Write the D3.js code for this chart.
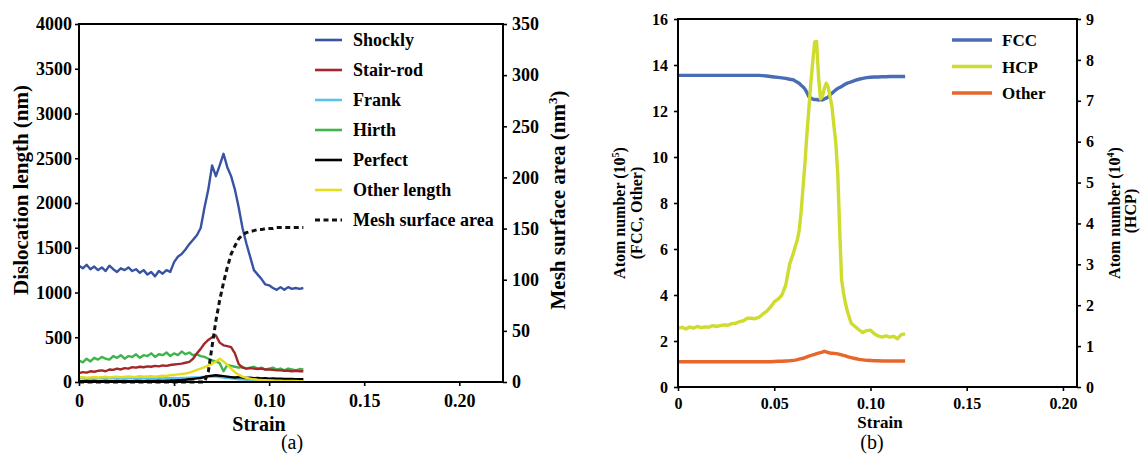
<!DOCTYPE html>
<html><head><meta charset="utf-8">
<script src="https://cdn.jsdelivr.net/npm/d3@7/dist/d3.min.js"></script>
<style>
html,body{margin:0;padding:0;background:#fff;}
svg{display:block;}
text{font-family:"Liberation Serif","Times New Roman",serif;}
</style></head>
<body>
<svg id="c" width="1141" height="457"></svg>
<script>
// ---------- Panel (a) data ----------
const strainA = [0,0.002,0.004,0.006,0.008,0.010,0.012,0.014,0.016,0.018,0.020,0.022,0.024,0.026,0.028,0.030,0.032,0.034,0.036,0.038,0.040,0.042,0.044,0.046,0.048,0.050,0.052,0.054,0.056,0.058,0.060,0.062,0.064,0.066,0.068,0.070,0.072,0.074,0.076,0.078,0.080,0.082,0.084,0.086,0.088,0.090,0.092,0.094,0.096,0.098,0.100,0.102,0.104,0.106,0.108,0.110,0.112,0.114,0.116,0.118];
const shockly = [1300,1270,1310,1260,1290,1250,1280,1240,1300,1260,1230,1270,1250,1280,1240,1260,1220,1250,1200,1230,1180,1240,1210,1250,1230,1340,1400,1430,1480,1540,1590,1640,1720,1950,2150,2420,2300,2420,2550,2400,2300,2150,1950,1720,1550,1400,1250,1200,1150,1090,1080,1050,1030,1060,1030,1060,1040,1050,1040,1050];
const stairRod = [100,110,105,120,115,125,130,120,140,135,150,140,155,150,165,160,170,165,175,170,180,175,185,180,190,195,200,205,215,225,260,320,370,430,470,500,520,440,410,400,390,320,200,160,150,155,150,145,150,140,140,135,130,130,125,125,120,125,120,120];
const frank = [40,42,38,41,39,42,40,38,41,43,40,39,42,40,41,38,40,42,39,41,40,42,41,43,42,44,43,45,46,48,50,52,55,58,60,62,60,55,50,45,40,35,30,28,25,22,20,20,18,18,17,16,16,15,15,14,14,13,13,12];
const hirth = [240,220,260,230,270,250,280,260,250,290,270,300,260,290,280,310,270,300,290,320,280,310,300,330,290,320,300,340,310,330,300,310,290,280,260,240,230,210,120,190,180,170,160,170,150,160,170,150,160,140,150,160,140,150,130,150,140,130,145,140];
const perfect = [10,8,12,9,11,10,8,12,10,9,11,10,12,9,10,11,12,10,13,11,12,14,13,15,16,18,20,22,25,30,35,40,45,55,65,70,75,70,65,60,55,50,55,50,45,48,42,45,40,42,38,40,36,38,35,34,33,32,31,30];
const otherLength = [50,55,48,52,56,50,54,58,52,56,60,55,58,62,57,60,64,58,62,66,60,65,70,68,75,80,85,90,95,105,120,135,150,165,185,200,230,260,230,190,150,110,80,60,45,38,30,25,22,20,18,16,15,14,13,12,12,11,10,10];
const meshArea = [0,0,0,0,0,0,0,0,0,0,0,0,0,0,0,0,0,0,0,0,0,0,0,0,0,0,0,0,0,0,0,0,0,0,10,35,60,80,97,112,125,133,140,144,146,147,148,149,149,150,150,150,151,151,151,151,151,151,151,151];
const xTicksA = [0,0.05,0.10,0.15,0.20];
const yTicksA = [0,500,1000,1500,2000,2500,3000,3500,4000];
const y2TicksA = [0,50,100,150,200,250,300,350];
const legendA = ["Shockly","Stair-rod","Frank","Hirth","Perfect","Other length","Mesh surface area"];

// ---------- Panel (b) data ----------
const strainB = [0,0.002,0.004,0.006,0.008,0.010,0.012,0.014,0.016,0.018,0.020,0.022,0.024,0.026,0.028,0.030,0.032,0.034,0.036,0.038,0.040,0.042,0.044,0.046,0.048,0.050,0.052,0.054,0.056,0.058,0.060,
0.061,0.062,0.063,0.064,0.065,0.066,0.067,0.068,0.069,0.070,0.071,0.072,0.073,0.074,0.075,0.076,0.077,0.078,0.079,0.080,0.081,0.082,0.083,0.084,0.085,0.086,0.087,0.088,0.089,0.090,
0.092,0.094,0.096,0.098,0.100,0.102,0.104,0.106,0.108,0.110,0.112,0.114,0.116,0.118];
const fcc = [13.55,13.55,13.55,13.55,13.55,13.55,13.55,13.55,13.55,13.55,13.55,13.55,13.55,13.55,13.55,13.55,13.55,13.55,13.55,13.55,13.55,13.55,13.54,13.52,13.5,13.48,13.46,13.44,13.42,13.38,13.35,
13.3,13.25,13.2,13.12,13.05,12.95,12.8,12.62,12.56,12.52,12.5,12.5,12.48,12.5,12.48,12.52,12.56,12.6,12.7,12.77,12.85,12.92,12.98,13.02,13.06,13.12,13.17,13.21,13.24,13.27,
13.33,13.38,13.42,13.45,13.47,13.48,13.48,13.49,13.49,13.5,13.5,13.5,13.5,13.5];
const hcp = [1.44,1.46,1.42,1.47,1.44,1.48,1.45,1.47,1.46,1.50,1.48,1.50,1.52,1.51,1.55,1.56,1.60,1.62,1.68,1.68,1.67,1.70,1.78,1.85,1.95,2.08,2.15,2.25,2.50,3.00,3.28,
3.45,3.6,3.84,4.3,4.9,5.5,6.2,6.8,7.43,7.95,8.44,8.45,7.6,7.05,7.1,7.3,7.43,7.34,7.1,6.85,6.4,5.96,5.23,3.84,2.62,2.3,2.05,1.85,1.7,1.56,
1.48,1.4,1.33,1.38,1.39,1.3,1.25,1.22,1.25,1.22,1.24,1.18,1.28,1.3];
const otherB = [1.1,1.1,1.1,1.1,1.1,1.1,1.1,1.1,1.1,1.1,1.1,1.1,1.1,1.1,1.1,1.1,1.1,1.1,1.1,1.1,1.1,1.1,1.1,1.1,1.1,1.11,1.12,1.12,1.13,1.14,1.16,
1.17,1.19,1.21,1.23,1.25,1.28,1.31,1.34,1.37,1.4,1.42,1.45,1.47,1.49,1.52,1.55,1.53,1.5,1.48,1.47,1.46,1.45,1.44,1.42,1.4,1.37,1.35,1.32,1.3,1.28,
1.24,1.2,1.18,1.16,1.15,1.14,1.14,1.13,1.13,1.13,1.13,1.13,1.13,1.13];
const xTicksB = [0,0.05,0.10,0.15,0.20];
const yTicksB = [0,2,4,6,8,10,12,14,16];
const y2TicksB = [0,1,2,3,4,5,6,7,8,9];
const legendB = ["FCC","HCP","Other"];

// ---------- drawing ----------
const svg = d3.select("#c");
const fmtX = d => d === 0 ? "0" : d3.format(".2f")(d);
const fmtY = d3.format("d");

function styleAxis(g, size){
  g.attr("font-family",'"Liberation Serif","Times New Roman",serif');
  g.select(".domain").remove();
  g.selectAll(".tick line").attr("stroke","#000").attr("stroke-width",1.6);
  g.selectAll(".tick text").attr("font-size",size).attr("font-weight","bold").attr("fill","#000");
}

// Panel (a)
{
  const L=79,R=503,T=24,B=382;
  const x = d3.scaleLinear().domain([0,0.223]).range([L,R]);
  const y = d3.scaleLinear().domain([0,4000]).range([B,T]);
  const y2 = d3.scaleLinear().domain([0,350]).range([B,T]);
  const g = svg.append("g");
  g.append("g").attr("transform",`translate(0,${B})`)
    .call(d3.axisBottom(x).tickValues(xTicksA).tickFormat(fmtX).tickSize(4).tickPadding(8))
    .call(a=>styleAxis(a,18));
  g.append("g").attr("transform",`translate(${L},0)`)
    .call(d3.axisLeft(y).tickValues(yTicksA).tickFormat(fmtY).tickSize(4).tickPadding(3))
    .call(a=>styleAxis(a,18));
  g.append("g").attr("transform",`translate(${R},0)`)
    .call(d3.axisRight(y2).tickValues(y2TicksA).tickFormat(fmtY).tickSize(4).tickPadding(5))
    .call(a=>styleAxis(a,18));

  const series = [
    {v:hirth,c:"#3db54a"},
    {v:stairRod,c:"#a3272b"},
    {v:frank,c:"#5bc3ea"},
    {v:perfect,c:"#000000"},
    {v:otherLength,c:"#e6dc1f"},
    {v:shockly,c:"#3853a4"}
  ];
  series.forEach(s=>{
    g.append("path").datum(strainA.map((t,i)=>[t,s.v[i]]))
      .attr("fill","none").attr("stroke",s.c).attr("stroke-width",2.4).attr("stroke-linejoin","round")
      .attr("d",d3.line().x(d=>x(d[0])).y(d=>y(d[1])));
  });
  g.append("path").datum(strainA.map((t,i)=>[t,meshArea[i]]))
    .attr("fill","none").attr("stroke","#111").attr("stroke-width",3).attr("stroke-dasharray","5,3.5")
    .attr("d",d3.line().x(d=>x(d[0])).y(d=>y2(d[1])));

  g.append("rect").attr("x",L).attr("y",T).attr("width",R-L).attr("height",B-T)
    .attr("fill","none").attr("stroke","#000").attr("stroke-width",2);

  // legend
  const lc = ["#3853a4","#a3272b","#5bc3ea","#3db54a","#000000","#e6dc1f","#111"];
  legendA.forEach((name,i)=>{
    const yy = 40 + i*30;
    g.append("line").attr("x1",315).attr("x2",342).attr("y1",yy).attr("y2",yy)
      .attr("stroke",lc[i]).attr("stroke-width",i===6?3:2.6)
      .attr("stroke-dasharray",i===6?"5,3.5":null);
    g.append("text").attr("x",353).attr("y",yy+6).text(name)
      .attr("font-size",18).attr("font-weight","bold");
  });

  g.append("text").attr("transform","translate(28,190) rotate(-90)").attr("text-anchor","middle")
    .attr("font-size",21).attr("font-weight","bold").text("Dislocation length (nm)");
  const t2 = g.append("text").attr("transform","translate(565,200) rotate(-90)").attr("text-anchor","middle")
    .attr("font-size",21).attr("font-weight","bold");
  t2.append("tspan").text("Mesh surface area (nm");
  t2.append("tspan").attr("font-size",13).attr("dy",-8).text("3");
  t2.append("tspan").attr("dy",8).text(")");
  g.append("text").attr("x",259).attr("y",431).attr("text-anchor","middle")
    .attr("font-size",20).attr("font-weight","bold").text("Strain");
  g.append("text").attr("x",292).attr("y",449).attr("text-anchor","middle")
    .attr("font-size",20).text("(a)");
}

// Panel (b)
{
  const L=678,R=1077,T=19,B=387;
  const x = d3.scaleLinear().domain([0,0.2073]).range([L,R]);
  const y = d3.scaleLinear().domain([0,16]).range([B,T]);
  const y2 = d3.scaleLinear().domain([0,9]).range([B,T]);
  const g = svg.append("g");
  g.append("g").attr("transform",`translate(0,${B})`)
    .call(d3.axisBottom(x).tickValues(xTicksB).tickFormat(fmtX).tickSize(4).tickPadding(7))
    .call(a=>styleAxis(a,16));
  g.append("g").attr("transform",`translate(${L},0)`)
    .call(d3.axisLeft(y).tickValues(yTicksB).tickFormat(fmtY).tickSize(4).tickPadding(6))
    .call(a=>styleAxis(a,16));
  g.append("g").attr("transform",`translate(${R},0)`)
    .call(d3.axisRight(y2).tickValues(y2TicksB).tickFormat(fmtY).tickSize(4).tickPadding(5))
    .call(a=>styleAxis(a,16));

  const lineL = d3.line().x(d=>x(d[0])).y(d=>y(d[1]));
  const lineR = d3.line().x(d=>x(d[0])).y(d=>y2(d[1]));
  g.append("path").datum(strainB.map((t,i)=>[t,otherB[i]]))
    .attr("fill","none").attr("stroke","#e8652c").attr("stroke-width",3.4).attr("d",lineL);
  g.append("path").datum(strainB.map((t,i)=>[t,fcc[i]]))
    .attr("fill","none").attr("stroke","#4a6cb4").attr("stroke-width",3.4).attr("d",lineL);
  g.append("path").datum(strainB.map((t,i)=>[t,hcp[i]]))
    .attr("fill","none").attr("stroke","#cddc2e").attr("stroke-width",3.4).attr("stroke-linejoin","round").attr("d",lineR);

  g.append("rect").attr("x",L).attr("y",T).attr("width",R-L).attr("height",B-T)
    .attr("fill","none").attr("stroke","#000").attr("stroke-width",2);

  const lc = ["#4a6cb4","#cddc2e","#e8652c"];
  legendB.forEach((name,i)=>{
    const yy = 40 + i*26.5;
    g.append("line").attr("x1",952).attr("x2",992).attr("y1",yy).attr("y2",yy)
      .attr("stroke",lc[i]).attr("stroke-width",3.4);
    g.append("text").attr("x",1002).attr("y",yy+6).text(name)
      .attr("font-size",17).attr("font-weight","bold");
  });

  const tl = g.append("text").attr("transform","translate(625,213) rotate(-90)").attr("text-anchor","middle")
    .attr("font-size",16).attr("font-weight","bold");
  tl.append("tspan").text("Atom number (10");
  tl.append("tspan").attr("font-size",10).attr("dy",-6).text("5");
  tl.append("tspan").attr("dy",6).text(")");
  g.append("text").attr("transform","translate(642,213) rotate(-90)").attr("text-anchor","middle")
    .attr("font-size",16).attr("font-weight","bold").text("(FCC, Other)");
  const tr = g.append("text").attr("transform","translate(1120,213) rotate(-90)").attr("text-anchor","middle")
    .attr("font-size",16).attr("font-weight","bold");
  tr.append("tspan").text("Atom number (10");
  tr.append("tspan").attr("font-size",10).attr("dy",-6).text("4");
  tr.append("tspan").attr("dy",6).text(")");
  g.append("text").attr("transform","translate(1136,211) rotate(-90)").attr("text-anchor","middle")
    .attr("font-size",16).attr("font-weight","bold").text("(HCP)");

  g.append("text").attr("x",880).attr("y",428).attr("text-anchor","middle")
    .attr("font-size",17).attr("font-weight","bold").text("Strain");
  g.append("text").attr("x",872).attr("y",449).attr("text-anchor","middle")
    .attr("font-size",20).text("(b)");
}
</script>
</body></html>
